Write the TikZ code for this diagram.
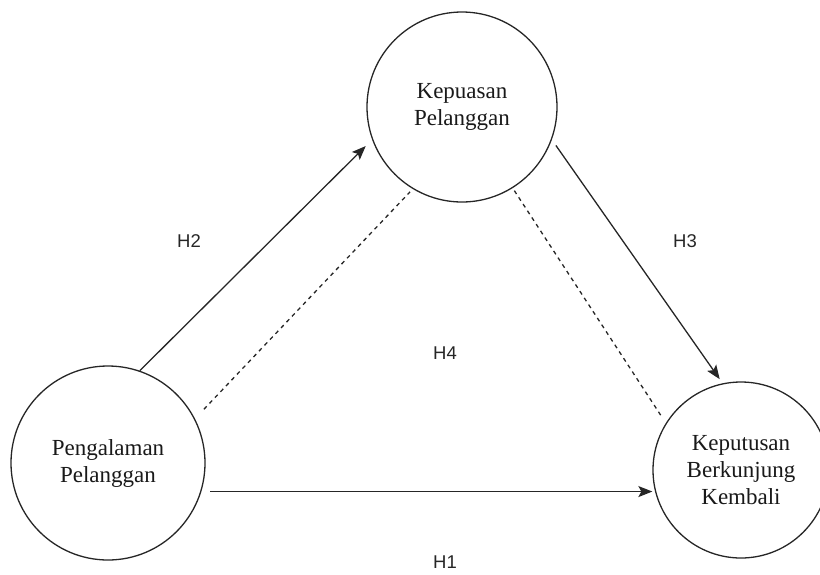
\documentclass[tikz,border=0pt]{standalone}
\usepackage{fontspec}
\setmainfont{Liberation Serif}
\newfontfamily\labelfont{Liberation Sans}
\usetikzlibrary{arrows.meta}
\tikzset{
  construct/.style={circle, draw=black!85, line width=1.3pt, inner sep=0pt,
    align=center, font=\fontsize{23}{27}\selectfont, text=black!90},
  hyp/.style={font=\labelfont\fontsize{18.5}{20}\selectfont, text=black!85},
  effect/.style={draw=black!85, line width=1.3pt, -{Stealth[length=14pt,width=11pt,inset=3pt]}},
  mediation/.style={draw=black!85, line width=1.3pt, dash pattern=on 4pt off 4pt}
}
\begin{document}
\begin{tikzpicture}[x=1pt,y=-1pt]
\useasboundingbox (0,0) rectangle (820,574);
\node[construct, minimum size=190pt] (T) at (462,107) {Kepuasan\\Pelanggan};
\node[construct, minimum size=194pt] (L) at (108,463) {Pengalaman\\Pelanggan};
\node[construct, minimum size=176pt] (R) at (741,470) {Keputusan\\Berkunjung\\Kembali};

\draw[effect, shorten >=9pt] (L.71) -- (T.200);
\draw[effect, shorten <=7pt, shorten >=5pt] (T.340) -- (R.102);
\draw[effect, shorten <=9pt] (L.-17) -- (L.-17 -| R.west);
\draw[mediation, shorten <=13pt, shorten >=4pt] (L.27) -- (T.239);
\draw[mediation, shorten <=3pt, shorten >=6pt] (T.302) -- (R.148);

\node[hyp] (h2) at (189,241) {H2};
\node[hyp] (h3) at (685,241) {H3};
\node[hyp] (h4) at (445,353) {H4};
\node[hyp] (h1) at (445,562) {H1};
\end{tikzpicture}
\end{document}
